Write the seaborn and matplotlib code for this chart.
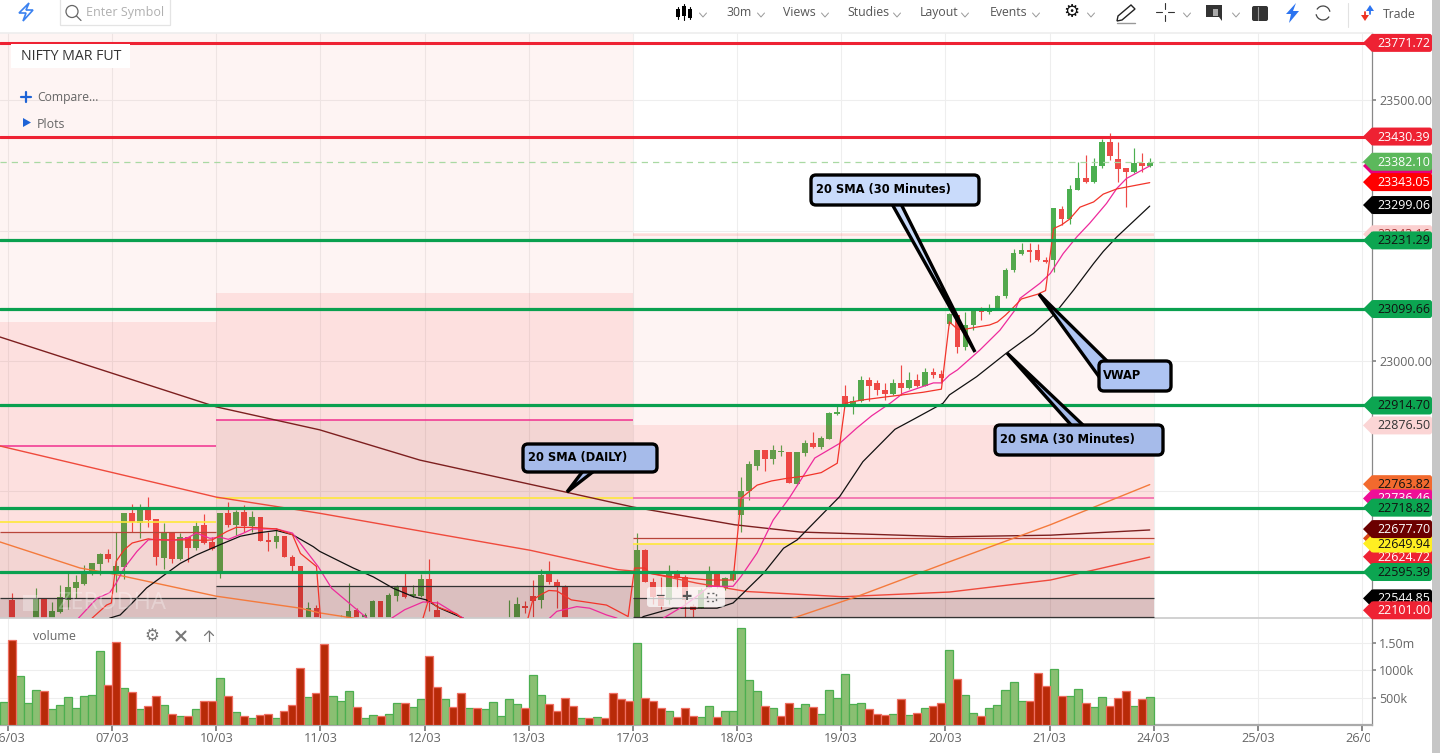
import numpy as np
import matplotlib
matplotlib.use("Agg")
import matplotlib.pyplot as plt
from matplotlib.patches import FancyBboxPatch, Polygon, Rectangle, Circle, Arc
from matplotlib.transforms import Bbox
import seaborn as sns

# ---------- data ----------
opens = [22470,22541,22440,22450,22480,22543,22480,22519,22542,22564,22573,22598,22610,22630,
22596,22605,22708,22689,22716,22697,22623,22672,22620,22662,22641,22685,22653,
22597,22708,22686,22711,22683,22701,22656,22653,22664,22625,22606,22470,22526,
22480,22450,22450,22470,22522,22480,22470,22539,22470,22550,22568,22550,22550,
22582,22522,22470,22490,22480,22440,22480,22450,22440,22450,22450,22470,22531,
22550,22541,22591,22577,22569,22460,22420,22440,22420,22440,22410,22380,22350,
22400,22638,22577,22550,22542,22592,22585,22530,22526,22564,22591,22564,22581,
22705,22751,22799,22829,22813,22825,22826,22764,22823,22842,22835,22850,22898,
22933,22916,22924,22963,22958,22945,22936,22957,22949,22963,22953,22979,22975,
23071,23089,23026,23069,23097,23093,23099,23125,23174,23206,23212,23212,23194,
23194,23292,23272,23328,23350,23344,23374,23420,23388,23371,23363,23380,23374]
highs = [22490,22555,22480,22485,22564,22545,22537,22571,22595,22590,22609,22612,22632,22640,
22673,22708,22725,22725,22739,22697,22689,22673,22670,22663,22694,22707,22663,
22709,22729,22715,22724,22713,22701,22673,22679,22664,22628,22606,22537,22532,
22490,22495,22513,22574,22526,22516,22542,22540,22555,22571,22593,22571,22592,
22620,22539,22510,22500,22495,22490,22490,22480,22485,22480,22541,22548,22539,
22580,22601,22617,22582,22571,22470,22450,22445,22445,22445,22420,22390,22360,
22670,22640,22583,22585,22608,22600,22590,22535,22564,22607,22597,22586,22599,
22778,22809,22829,22829,22839,22839,22826,22825,22848,22863,22856,22902,22913,
22954,22932,22971,22969,22963,22957,22965,22992,22979,22975,22986,22986,22983,
23092,23089,23093,23101,23104,23110,23126,23178,23214,23227,23227,23225,23200,
23293,23297,23337,23382,23395,23390,23425,23438,23420,23371,23409,23398,23390]
lows = [22460,22460,22430,22440,22470,22470,22470,22516,22524,22545,22571,22590,22590,22615,
22558,22582,22673,22660,22681,22609,22601,22612,22619,22614,22638,22649,22637,
22583,22681,22667,22673,22673,22654,22636,22641,22624,22596,22450,22460,22460,
22430,22440,22440,22460,22460,22470,22460,22460,22460,22539,22545,22547,22547,
22520,22460,22460,22450,22430,22430,22440,22440,22430,22440,22440,22460,22516,
22470,22526,22572,22526,22460,22420,22410,22410,22410,22400,22370,22340,22310,
22390,22576,22535,22525,22535,22564,22500,22500,22526,22564,22564,22561,22579,
22673,22734,22791,22790,22802,22817,22766,22764,22818,22833,22831,22850,22897,
22913,22899,22922,22924,22934,22926,22934,22934,22947,22951,22952,22967,22957,
23069,23015,23022,23059,23079,23091,23098,23120,23171,23203,23190,23192,23188,
23171,23261,23263,23327,23342,23342,23371,23385,23344,23295,23361,23363,23372]
closes = [22480,22470,22470,22475,22543,22480,22521,22548,22566,22576,22594,22612,22630,22620,
22606,22708,22691,22718,22695,22625,22672,22621,22662,22641,22683,22651,22640,
22708,22686,22711,22684,22701,22654,22653,22664,22624,22606,22460,22526,22470,
22440,22485,22490,22520,22470,22512,22539,22470,22552,22566,22547,22553,22582,
22537,22470,22490,22460,22440,22480,22450,22470,22475,22470,22490,22534,22526,
22539,22590,22576,22568,22470,22430,22440,22420,22440,22410,22380,22350,22320,
22638,22576,22548,22530,22593,22583,22542,22523,22561,22591,22567,22583,22591,
22751,22802,22829,22813,22829,22828,22766,22825,22842,22835,22852,22900,22903,
22918,22924,22963,22953,22944,22936,22957,22949,22963,22953,22979,22973,22967,
23090,23026,23069,23101,23094,23101,23125,23174,23208,23212,23209,23194,23190,
23293,23272,23329,23350,23344,23374,23420,23394,23369,23363,23380,23374,23380]

volumes = [420,1560,895,395,635,617,284,358,506,302,524,543,1357,728,
1520,672,598,284,340,524,358,210,173,167,284,432,432,
851,524,234,173,136,191,210,136,247,358,1043,506,580,
1487,524,444,617,321,136,191,173,210,395,395,321,469,
1265,691,469,321,580,302,302,284,413,173,469,376,302,
913,543,376,265,487,340,136,130,154,136,580,469,432,
1493,488,445,317,262,152,317,171,152,354,152,262,262,
1783,821,617,340,302,173,395,302,376,321,210,635,487,
932,376,395,284,210,191,210,469,191,228,302,340,395,
1376,839,543,228,173,302,358,635,784,432,432,950,710,
1024,524,524,654,395,321,506,340,487,617,340,469,506]
volume_dirs = ("G" "RGGGRGGGGGGGR" "RGRGRRGRGRGRR" "GRGRGRRGRRRGR" "RGGGRGGRGGRGG"
               "RRGRRGRGGGGGR" "GGRRRRGRGRRRR" "GRRRGRRRGGRGG" "GGGRGRRGGRGGG"
               "GGGRRRGRGRGRR" "GRGGRGGGGGRRR" "GRGGRGGRRRGRG")

vwap_i = [0,10,11,12.8,13.4,14,15,16,18,19,21,23,25,26,27.8,29,31,34,36,37,39,39.5,40,46,52.3,53,54,56.5,57.3,61,65.4,66,67,68,69,70.8,75.2,77.9,78.7,79,80,80.6,83,88,91,92,94,95.8,97.7,99.8,102,104,105,107,110,114.7,117,118,119,120,121.4,123,124,125,126,127,129,130,131,132,133,134.3,136,137.2,138.9,143]
vwap_p = [22300,22480,22507,22532,22536,22616,22638,22651,22659,22657,22657,22657,22656,22657,22673,22681,22681,22678,22667,22631,22606,22507,22450,22420,22507,22543,22529,22515,22504,22440,22507,22542,22552,22560,22559,22542,22532,22510,22603,22603,22603,22593,22587,22580,22580,22737,22762,22770,22775,22779,22786,22804,22919,22925,22931,22940,22946,23075,23061,23061,23065,23069,23075,23088,23103,23119,23128,23135,23254,23261,23272,23295,23305,23320,23330,23342]
sma_i = [0,9.3,11.6,13.2,14,15,16.6,18,19,21,22.8,24,25.7,27,28,29.9,31,34,36,39.2,40.9,43.6,45.3,47,48.4,50,52.3,54.2,55.9,57.3,62,68.1,69,71.5,73.1,75.2,76.5,79,82.3,85,87,88,91,92,94,96,98,101.2,104.3,106.4,108.3,110.6,112.2,116,117,118,119,121.8,124.3,126.2,126.8,129.3,130.6,132.2,133.9,135.5,137.6,138.9,140.1,143]
sma_p = [22300,22507,22545,22556,22574,22603,22635,22657,22658,22656,22660,22670,22660,22662,22658,22670,22678,22678,22670,22606,22564,22529,22507,22470,22507,22523,22538,22536,22520,22507,22420,22507,22520,22529,22526,22513,22507,22460,22507,22532,22555,22568,22568,22587,22632,22695,22737,22814,22842,22871,22895,22919,22938,22958,22958,22973,22983,23021,23059,23098,23120,23149,23168,23206,23238,23264,23302,23331,23350,23374]
sma2_i = [0,13.2,14.5,16,17.8,20.3,22,24,27,29.5,31.5,34,36,38.6,39.4,41.1,43.6,46.1,48.6,51.1,52.7,54.4,57.3,68,79.8,83.5,89,91,94.8,97.3,99,102.7,104.3,107.2,111.2,113.5,117.2,118,121.4,125.1,128.5,131,133.5,136,137.2,138.9,143]
sma2_p = [22300,22507,22513,22536,22565,22593,22612,22628,22648,22664,22670,22675,22667,22644,22635,22622,22603,22586,22564,22548,22542,22526,22507,22350,22510,22526,22526,22536,22593,22641,22657,22715,22740,22807,22869,22888,22919,22935,22970,23015,23053,23088,23136,23187,23210,23238,23297]
maroon_i = [-0.5,26.5,39.4,51.9,70,78.5,91.2,99.4,118,130.6,143]
maroon_p = [23046,22912,22868,22810,22749,22720,22686,22672,22663,22666,22676]
redma_i = [-0.5,26.5,39.4,52.7,65.7,76.6,80,86.5,92.7,104.7,118,130.6,143]
redma_p = [22837,22739,22708,22672,22637,22600,22595,22574,22558,22548,22557,22580,22624]
orange_i = [-0.5,9.5,13.2,26.5,37,39.4,43.6,70,98.5,106.4,118,130.6,143]
orange_p = [22653,22603,22593,22549,22526,22517,22507,22400,22507,22548,22615,22686,22763]

green_levels = [23231.29,23099.66,22914.70,22718.82,22595.39]
red_levels = [23771.72,23430.39]
ltp = 23382.10

period_edges = [-0.5,26.5,78.5,143.5]
magenta_levels = [22837,22887,22736.46]
yellow_levels = [22691,22737,22649.94]
black_levels = [22544.85,22569,22544.85]
low_level = 22509
brown_levels = [22672,None,22660]
band_light_tops = [23075,23130,23243]
band_mid_bottoms = [22672,22887,22650]
band_dark_bottoms = [22545,22569,22545]

day_ticks = ["06/03","07/03","10/03","11/03","12/03","13/03","17/03","18/03","19/03","20/03","21/03","24/03","25/03","26/03"]
badge_values = [23771.72,23430.39,23374.00,23382.10,23343.05,23299.06,23243.16,23231.29,23099.66,22914.70,22876.50,22763.82,22736.46,22718.82,22660.00,22624.72,22649.94,22677.70,22595.39,22544.85,22101.00]
badge_fills = ["#ee2233","#ee2233","#e6007e","#5cb85c","#ff0000","#000000","#fbd0d0","#0ca551","#0ca551","#0ca551","#fbd5d5","#f26a2e","#ee0e97","#0ca551","#d9481a","#ee2233","#ffee22","#6b0000","#0ca551","#000000","#ee2233"]
badge_texts = ["white","white","white","white","white","white","#a33","#111","#111","#111","#333","#111","white","#111","white","white","#111","white","#111","white","white"]

# ---------- figure ----------
sns.set_theme(style="white")
plt.rcParams["font.family"] = ["Open Sans","DejaVu Sans"]
W, H = 1440, 753
fig = plt.figure(figsize=(W/100, H/100), dpi=100, facecolor="white")
ax = fig.add_axes([0, 1-618/H, 1372/W, (618-33)/H])
axv = fig.add_axes([0, 1-725/H, 1372/W, (725-619)/H])
XMIN, XMAX = -0.5, (1372-4)/8.012
YMIN = 23000+(361-618)*1.9175
YMAX = 23000+(361-33)*1.9175
idx = np.arange(len(opens))
o, h, l, c = map(np.array, (opens, highs, lows, closes))

# candles (under the translucent bands)
up = c >= o
GREEN, RED = "#4caf50", "#ee4b48"
ax.vlines(idx[up], l[up], h[up], color=GREEN, lw=0.85, zorder=1)
ax.vlines(idx[~up], l[~up], h[~up], color=RED, lw=0.85, zorder=1)
bh = np.maximum(np.abs(c-o), 1.5)
ax.bar(idx[up], bh[up], bottom=np.minimum(o, c)[up], width=0.72, color=GREEN, zorder=1, linewidth=0)
ax.bar(idx[~up], bh[~up], bottom=np.minimum(o, c)[~up], width=0.72, color=RED, zorder=1, linewidth=0)

# bands
LIGHT=((.98,.2,.15),.05); MID=((.95,.2,.18),.15); DARK=((.75,.1,.05),.18); DARKEST=((.45,0,0),.25)
for k in range(3):
    x0, x1 = period_edges[k], period_edges[k+1]
    top = YMAX if k < 2 else band_light_tops[k]
    mid_top = band_light_tops[k] if k < 2 else 22876.5
    ax.fill_between([x0,x1], mid_top, top, color=LIGHT[0], alpha=LIGHT[1], lw=0, zorder=2)
    ax.fill_between([x0,x1], band_mid_bottoms[k], mid_top, color=MID[0], alpha=MID[1], lw=0, zorder=2)
    ax.fill_between([x0,x1], band_dark_bottoms[k], band_mid_bottoms[k], color=DARK[0], alpha=DARK[1], lw=0, zorder=2)
    ax.fill_between([x0,x1], YMIN, band_dark_bottoms[k], color=DARKEST[0], alpha=DARKEST[1], lw=0, zorder=2)
    ax.hlines(magenta_levels[k], x0, x1, color="#f0308f" if k<2 else "#f060a8", lw=1.1, zorder=3)
    ax.hlines(yellow_levels[k], x0, x1, color="#ffe83a", lw=1.2, zorder=3)
    ax.hlines(black_levels[k], x0, x1, color="#333333", lw=0.9, zorder=3)
    if brown_levels[k]:
        ax.hlines(brown_levels[k], x0, x1, color="#b8453a", lw=0.9, zorder=3)
ax.hlines(low_level, period_edges[2], period_edges[3], color="#333333", lw=0.9, zorder=3)
ax.fill_between([period_edges[2], period_edges[3]], 23240, 23246, color=(1,.2,.15), alpha=.12, lw=0, zorder=2)

# moving lines
for xs, ys, col, lw in [(maroon_i, maroon_p, "#7d1f1f", 1.0), (redma_i, redma_p, "#ef4a3c", 1.0),
                        (orange_i, orange_p, "#f47a3c", 1.0), (sma2_i, sma2_p, "#111111", 0.9),
                        (sma_i, sma_p, "#ee2a9c", 0.9), (vwap_i, vwap_p, "#f2342a", 0.9)]:
    sns.lineplot(x=xs, y=ys, ax=ax, color=col, lw=lw, sort=False, estimator=None, errorbar=None, zorder=4)

for v in green_levels:
    ax.axhline(v, color="#0aa04f", lw=2.3, zorder=5)
for v in red_levels:
    ax.axhline(min(v, 23610), color="#ee2233", lw=2.2, zorder=5)
ax.axhline(ltp, color="#a9d9a3", lw=0.9, ls=(0, (5, 4)), zorder=5)

# axes: price
xt = [0.5+13*k for k in range(len(day_ticks))]
ax.set_xlim(XMIN, XMAX); ax.set_ylim(YMIN, YMAX)
ax.set_xticks(xt); ax.set_xticklabels([])
ax.set_yticks([22750,23000,23250,23500])
ax.yaxis.tick_right()
ax.set_yticklabels(["","23000.00","","23500.00"], fontsize=9, color="#666666")
ax.tick_params(axis="y", length=3, color="#888888", pad=2, right=True, left=False)
ax.tick_params(axis="x", length=0)
ax.grid(True, color="#eeeeee", lw=0.8, zorder=0)
ax.set_axisbelow(True)
for s in ax.spines.values(): s.set_visible(False)
ax.spines["right"].set_visible(True); ax.spines["right"].set_color("#888888"); ax.spines["right"].set_linewidth(0.9)
ax.spines["top"].set_visible(True); ax.spines["top"].set_color("#eeeeee")
ax.spines["bottom"].set_visible(True); ax.spines["bottom"].set_color("#cccccc")
ax.set_xlabel(""); ax.set_ylabel("")

# volume
vol = np.array(volumes, float)
vdir = np.array(list(volume_dirs))
for key, face, edge in [("G", "#8abf72", "#4caf50"), ("R", "#b82a08", "#ef6f62")]:
    m = vdir == key
    before = len(axv.patches)
    sns.barplot(x=idx[m], y=vol[m], ax=axv, native_scale=True, width=1.0, color=face, saturation=1,
                edgecolor=edge, linewidth=0.9, zorder=3)
    for p in list(axv.patches)[before:]:
        cx = p.get_x() + p.get_width()/2
        p.set_x(cx-0.5); p.set_width(1.0)
axv.set_xlim(XMIN, XMAX)
axv.set_ylim(0, (725-619)/27.33*500)
axv.set_xticks(xt); axv.set_xticklabels(day_ticks, fontsize=9.2, color="#666666")
axv.set_yticks([500,1000,1500])
axv.yaxis.tick_right()
axv.set_yticklabels(["500k","1000k","1.50m"], fontsize=9, color="#666666")
axv.tick_params(axis="y", length=3, color="#888888", pad=2, right=True, left=False)
axv.tick_params(axis="x", length=4, color="#777777", pad=1, bottom=True)
axv.grid(True, color="#eeeeee", lw=0.8, zorder=0); axv.set_axisbelow(True)
for s in axv.spines.values(): s.set_visible(False)
axv.spines["right"].set_visible(True); axv.spines["right"].set_color("#888888"); axv.spines["right"].set_linewidth(0.9)
axv.spines["bottom"].set_visible(True); axv.spines["bottom"].set_color("#aaaaaa"); axv.spines["bottom"].set_linewidth(1.6)
axv.set_xlabel(""); axv.set_ylabel("")
for lab in axv.get_xticklabels():
    lab.set_clip_on(True); lab.set_clip_box(Bbox([[0,0],[1370,H]]))

# overlay in pixel coordinates
ov = fig.add_axes([0,0,1,1], facecolor="none")
ov.set_xlim(0,W); ov.set_ylim(H,0); ov.axis("off")

def py(p):
    return H - ax.transData.transform((0,p))[1]

# badges
z = 20
for v, fc, tc in zip(badge_values, badge_fills, badge_texts):
    y = py(np.clip(v, 22522, 23610))
    ov.add_patch(Polygon([(1363,y),(1372,y-9),(1372,y+9)], closed=True, fc=fc, ec="none", zorder=z))
    ov.add_patch(FancyBboxPatch((1371,y-9),61,18,boxstyle="round,pad=0,rounding_size=2.5",fc=fc,ec="none",zorder=z))
    ov.text(1403.5,y+0.5,f"{v:.2f}",color=tc,fontsize=8.9,ha="center",va="center",zorder=z)
    z += 1

# grey strip at right
ov.add_patch(Rectangle((1432,0),8,H,fc="#c6c6c6",ec="none",zorder=60))

# callouts
def callout(x0,y0,x1,y1,fill,txt,tx,pointer):
    ov.add_patch(Polygon(pointer,closed=True,fc=fill,ec="black",lw=2.4,joinstyle="miter",zorder=40))
    ov.add_patch(FancyBboxPatch((x0,y0),x1-x0,y1-y0,boxstyle="round,pad=0,rounding_size=5",fc=fill,ec="black",lw=2.4,zorder=41))
    ov.text(tx,(y0+y1)/2-1,txt,fontsize=8.3,fontweight="bold",family="DejaVu Sans",color="black",ha="left",va="center",zorder=42)
callout(523,444,657,472,"#a6bbea","20 SMA (DAILY)",528,[(583,471),(594,471),(567,492)])
callout(811,175,979,205,"#c9dbfb","20 SMA (30 Minutes)",816,[(892,204),(901,204),(975,352)])
callout(995,425,1163,455,"#a6bbea","20 SMA (30 Minutes)",1000,[(1072,426),(1084,426),(1007,353)])
callout(1099,361,1171,391,"#aec4f2","VWAP",1103,[(1100,378),(1108,362),(1039,294)])

# watermark and zoom control
ov.add_patch(Rectangle((23,595),15,16,fc="white",alpha=.3,ec="none",zorder=9))
ov.text(57,603,"ZERODHA",color="white",alpha=.3,fontsize=17,va="center",zorder=9)
ov.add_patch(FancyBboxPatch((647,587),78,20,boxstyle="round,pad=0,rounding_size=3",fc="white",alpha=.72,ec="none",zorder=10))
ov.text(660,597,"−",fontsize=12,ha="center",va="center",color="#555",zorder=11)
ov.text(686,597,"+",fontsize=13,fontweight="bold",ha="center",va="center",color="#555",zorder=11)
ov.add_patch(Rectangle((707,592.5),9,8,fc="none",ec="#666",lw=1,ls=(0,(1.5,2)),zorder=11))

# top-left panel
ov.add_patch(Rectangle((11,44),119,24,fc="white",ec="none",zorder=12))
ov.text(21,56,"NIFTY MAR FUT",fontsize=10.2,color="#333333",va="center",zorder=13)
ov.plot([21,31],[97,97],color="#1e63d6",lw=1.6,zorder=13); ov.plot([26,26],[92,102],color="#1e63d6",lw=1.6,zorder=13)
ov.text(37,97,"Compare...",fontsize=8.7,color="#666666",va="center",zorder=13)
ov.add_patch(Polygon([(23,118),(23,127),(31,122.5)],closed=True,fc="#1e63d6",ec="none",zorder=13))
ov.text(37,124,"Plots",fontsize=8.9,color="#666666",va="center",zorder=13)

# volume header
ov.text(33,637,"volume",fontsize=8.9,color="#666666",va="center",zorder=13)
ov.text(152,636,"⚙",family="DejaVu Sans",fontsize=12,color="#777777",ha="center",va="center",zorder=13)
ov.plot([176.5,185.5],[631.5,640.5],color="#777777",lw=1.5,zorder=13); ov.plot([176.5,185.5],[640.5,631.5],color="#777777",lw=1.5,zorder=13)
ov.plot([209,209],[641,631],color="#777777",lw=0.9,zorder=13); ov.plot([204.5,209,213.5],[635.5,631,635.5],color="#777777",lw=0.9,zorder=13)

# toolbar
def chev(x,y=15):
    ov.plot([x-3.5,x,x+3.5],[y-2,y+2,y-2],color="#999999",lw=0.7,zorder=50)
TB="#555555"
ov.add_patch(Rectangle((60,-3),110,28,fc="white",ec="#e4e4e4",lw=0.9,zorder=50))
ov.add_patch(Circle((72,11.5),6,fc="none",ec="#666666",lw=0.9,zorder=51))
ov.plot([76.5,81],[16,20.5],color="#666666",lw=0.9,zorder=51)
ov.text(86,12,"Enter Symbol",fontsize=9,color="#b0b0b0",va="center",zorder=51)
ov.add_patch(Polygon([(29,3),(19,13),(26,13),(23,21),(33,10),(26,10)],closed=True,fc="none",ec="#3b82f0",lw=1.2,zorder=51))
for x,top,bot,b0,b1 in [(678,7,19,9,17),(684,4,20,6,16),(690,7,19,9,18)]:
    ov.plot([x,x],[top,bot],color="black",lw=0.8,zorder=51)
    ov.add_patch(Rectangle((x-2,b0),4,b1-b0,fc="black",ec="none",zorder=51))
for txt,x in [("30m",726),("Views",783),("Studies",847),("Layout",920),("Events",990)]:
    ov.text(x,12.5,txt,fontsize=8.8,color=TB,va="center",zorder=51)
ov.text(1383,14,"Trade",fontsize=8.8,color=TB,va="center",zorder=51)
for x in [703,761,825,897,965,1036,1091,1187,1236]:
    chev(x)
ov.text(1071,12,"⚙",family="DejaVu Sans",fontsize=13,color="#111111",ha="center",va="center",zorder=51)
ov.add_patch(Polygon([(1131,5),(1135,9),(1122,20),(1117,21),(1118,16)],closed=True,fc="none",ec="#222222",lw=1,zorder=51))
ov.plot([1117,1135],[23,23],color="#999999",lw=1,zorder=51)
for a,b in [((1156,12),(1162,12)),((1168,12),(1174,12)),((1165,3),(1165,9)),((1165,15),(1165,21))]:
    ov.plot([a[0],b[0]],[a[1],b[1]],color="#333333",lw=0.8,zorder=51)
ov.add_patch(Polygon([(1206,5),(1222,5),(1222,21),(1219,17),(1206,17)],closed=True,fc="#333333",ec="none",zorder=51))
ov.add_patch(Rectangle((1213,9),5,7,fc="#aaaaaa",ec="none",zorder=52))
ov.add_patch(FancyBboxPatch((1252,6),16,15,boxstyle="round,pad=0,rounding_size=2",fc="#333333",ec="none",zorder=51))
ov.plot([1258,1258],[7,20],color="#999999",lw=0.8,zorder=52)
ov.add_patch(Polygon([(1296,3),(1286,14),(1291,14),(1289,23),(1299,11),(1293,11)],closed=True,fc="#2c74f0",ec="none",zorder=51))
ov.add_patch(Arc((1323,13),14,14,theta1=30,theta2=170,ec="#444444",lw=0.9,zorder=51))
ov.add_patch(Arc((1323,13),14,14,theta1=210,theta2=350,ec="#444444",lw=0.9,zorder=51))
ov.plot([1348,1348],[3,27],color="#e2e2e2",lw=0.8,zorder=51)
ov.add_patch(Polygon([(1370,5),(1366,11),(1374,11)],closed=True,fc="#2c74f0",ec="none",zorder=51))
ov.plot([1370,1370],[10,14],color="#2c74f0",lw=1.3,zorder=51)
ov.add_patch(Polygon([(1365,21),(1361,15),(1369,15)],closed=True,fc="#ee3322",ec="none",zorder=51))
ov.plot([1365,1365],[12,16],color="#ee3322",lw=1.3,zorder=51)

fig.savefig("out.png", dpi=100)
